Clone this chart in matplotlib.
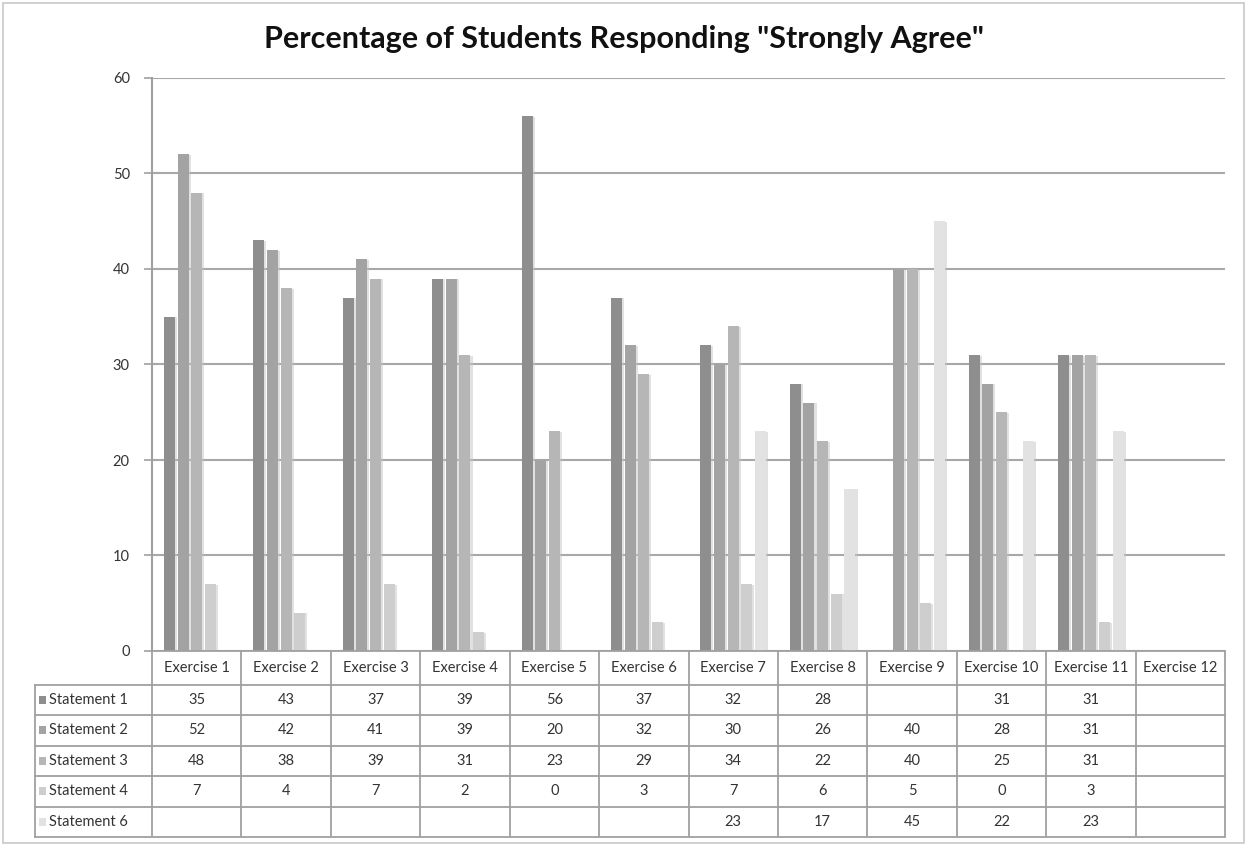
import matplotlib
matplotlib.use("Agg")
import matplotlib.pyplot as plt
import matplotlib.patheffects as pe
from matplotlib.patches import Rectangle
import numpy as np

plt.rcParams['font.family'] = ['Lato', 'DejaVu Sans']

exercises = ["Exercise 1", "Exercise 2", "Exercise 3", "Exercise 4", "Exercise 5", "Exercise 6",
             "Exercise 7", "Exercise 8", "Exercise 9", "Exercise 10", "Exercise 11", "Exercise 12"]
series_names = ["Statement 1", "Statement 2", "Statement 3", "Statement 4", "Statement 6"]
statement1 = [35, 43, 37, 39, 56, 37, 32, 28, None, 31, 31, None]
statement2 = [52, 42, 41, 39, 20, 32, 30, 26, 40, 28, 31, None]
statement3 = [48, 38, 39, 31, 23, 29, 34, 22, 40, 25, 31, None]
statement4 = [7, 4, 7, 2, 0, 3, 7, 6, 5, 0, 3, None]
statement6 = [None, None, None, None, None, None, 23, 17, 45, 22, 23, None]
series_values = [statement1, statement2, statement3, statement4, statement6]
colors = ["#8e8e8e", "#a3a3a3", "#b6b6b6", "#cecece", "#e2e2e2"]
yticks = [0, 10, 20, 30, 40, 50, 60]

W, H = 1247, 846
fig = plt.figure(figsize=(W / 100, H / 100), dpi=100)

# outer border
fig.patches.append(Rectangle((3 / W, 3 / H), 1 - 6 / W, 1 - 6 / H, transform=fig.transFigure,
                             fill=False, edgecolor="#c8c8c8", linewidth=1.2))

ax_l, ax_r, ax_t, ax_b = 152, 1225, 78, 651
ax = fig.add_axes([ax_l / W, 1 - ax_b / H, (ax_r - ax_l) / W, (ax_b - ax_t) / H])
n = len(exercises)
ax.set_xlim(0, n)
ax.set_ylim(0, 60)
ax.set_yticks(yticks)
ax.set_yticklabels([str(t) for t in yticks], fontsize=10.5, color="#333333")
ax.tick_params(axis='y', length=6, width=1.2, color="#a0a0a0", pad=10)
ax.tick_params(axis='x', bottom=False, labelbottom=False)
for s in ['top', 'right', 'bottom']:
    ax.spines[s].set_visible(False)
ax.spines['left'].set_color("#a0a0a0")
ax.spines['left'].set_linewidth(1.5)
ax.yaxis.grid(True, color="#a8a8a8", linewidth=1.5)
ax.set_axisbelow(True)

pitch = 0.153
bw = 0.123
centers = np.arange(n) + 0.5
for k, (vals, col) in enumerate(zip(series_values, colors)):
    xs = [c + (k - 2) * pitch for c, v in zip(centers, vals) if v is not None]
    hs = [v for v in vals if v is not None]
    bars = ax.bar(xs, hs, width=bw, color=col, edgecolor="none", zorder=3)
    for b in bars:
        b.set_path_effects([pe.SimplePatchShadow(offset=(1.5, -0.5), shadow_rgbFace="#c4c4c4", alpha=0.5),
                            pe.Normal()])

fig.text(0.5, 1 - 39 / H, 'Percentage of Students Responding "Strongly Agree"', ha='center', va='center',
         fontsize=22, fontweight='bold', color="#111111")

# data table
tab_l, tab_b = 35, 837
tax = fig.add_axes([tab_l / W, 1 - tab_b / H, (ax_r - tab_l) / W, (tab_b - ax_b) / H])
lab_w = (ax_l - tab_l) / ((ax_r - ax_l) / n)
hdr = 1.1
nrows = len(series_names)
tax.set_xlim(-lab_w, n)
tax.set_ylim(hdr + nrows, 0)
tax.axis('off')
lc = "#a0a0a0"
lw = 1.3
for i in range(n + 1):
    tax.plot([i, i], [0, hdr + nrows], color=lc, lw=lw, solid_capstyle='butt', clip_on=False)
tax.plot([-lab_w, -lab_w], [hdr, hdr + nrows], color=lc, lw=lw, clip_on=False)
tax.plot([0, n], [0, 0], color=lc, lw=lw, clip_on=False)
for r in range(nrows + 1):
    tax.plot([-lab_w, n], [hdr + r, hdr + r], color=lc, lw=lw, clip_on=False)
for i, name in enumerate(exercises):
    tax.text(i + 0.5, hdr / 2, name, ha='center', va='center', fontsize=10.5, color="#333333")
unit = (ax_r - ax_l) / n
for r, (name, vals, col) in enumerate(zip(series_names, series_values, colors)):
    yc = hdr + r + 0.5
    tax.add_patch(Rectangle((-lab_w + 4 / unit, yc - 0.13), 7 / unit, 0.26, facecolor=col,
                            edgecolor='none', clip_on=False))
    tax.text(-lab_w + 14 / unit, yc, name, ha='left', va='center', fontsize=10.5, color="#333333")
    for i, v in enumerate(vals):
        if v is not None:
            tax.text(i + 0.5, yc, str(v), ha='center', va='center', fontsize=10.5, color="#333333")

fig.savefig("out.png", dpi=100)
